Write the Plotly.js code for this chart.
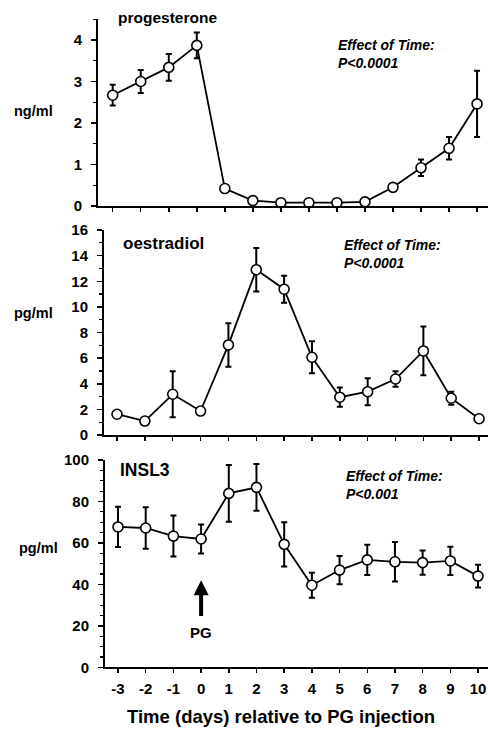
<!DOCTYPE html>
<html>
<head>
<meta charset="utf-8">
<script src="https://cdn.plot.ly/plotly-3.0.1.min.js"></script>
<style>html,body{margin:0;padding:0;background:#fff}#chart{width:488px;height:733px}</style>
</head>
<body>
<div id="chart"></div>
<script>
// ---- data ----
const days = [-3,-2,-1,0,1,2,3,4,5,6,7,8,9,10];
const tickLabels = ['-3','-2','-1','0','1','2','3','4','5','6','7','8','9','10'];

const progesterone    = [2.67,3.00,3.34,3.87,0.42,0.13,0.08,0.08,0.08,0.10,0.45,0.92,1.39,2.46];
const progesteroneErr = [0.25,0.28,0.32,0.31,0.04,0.03,0.02,0.02,0.02,0.02,0.08,0.20,0.27,0.80];

const oestradiol    = [1.62,1.09,3.18,1.87,7.03,12.9,11.38,6.07,2.95,3.38,4.37,6.56,2.87,1.27];
const oestradiolErr = [0.15,0.10,1.80,0.20,1.70,1.70,1.05,1.25,0.75,1.05,0.60,1.90,0.50,0.20];

const insl3    = [67.7,67.2,63.3,61.9,83.9,86.8,59.3,39.6,46.9,51.8,50.9,50.5,51.3,44.0];
const insl3Err = [9.7,10.0,9.9,7.0,13.7,11.3,10.7,6.0,6.8,7.3,9.5,5.8,6.8,5.5];

const panelNames = ['progesterone','oestradiol','INSL3'];
const unitLabels = ['ng/ml','pg/ml','pg/ml'];
const statLabels = ['P<0.0001','P<0.0001','P<0.001'];
const pgDay = 0;
const pgArrow = [24, 42];
const pgLabelY = 17;

// ---- layout helpers ----
const W = 488, H = 733;
const FONT = 'Liberation Sans, Arial, Helvetica, sans-serif';
const px = (x, y) => ({x: x / W, y: 1 - y / H});

function trace(y, err, xa, ya) {
  return {
    x: days, y: y, xaxis: xa, yaxis: ya, type: 'scatter', mode: 'lines+markers',
    line: {color: '#000', width: 1.8},
    marker: {symbol: 'circle', size: 10, color: '#fff', line: {color: '#000', width: 1.6}},
    error_y: {type: 'data', array: err, visible: true, color: '#000', thickness: 2, width: 3},
    cliponaxis: false, showlegend: false, hoverinfo: 'skip'
  };
}

const data = [
  trace(progesterone, progesteroneErr, 'x', 'y'),
  trace(oestradiol, oestradiolErr, 'x2', 'y2'),
  trace(insl3, insl3Err, 'x3', 'y3')
];

const tickFont = {family: FONT, size: 15, color: '#000', weight: 'bold'};

function xaxis(dom, range, anchor, labels) {
  return {
    domain: dom, range: range, anchor: anchor,
    showgrid: false, zeroline: false, showline: true, linecolor: '#000', linewidth: 2,
    ticks: 'outside', ticklen: 4, tickwidth: 1.5, tickcolor: '#000',
    tickmode: 'array', tickvals: days, ticktext: labels ? tickLabels : days.map(() => ''),
    showticklabels: !!labels, tickfont: tickFont, ticklabeloverflow: 'allow',
    ticklabelstandoff: 3, fixedrange: true
  };
}
function yaxis(dom, range, anchor, dtick, minor) {
  return {
    domain: dom, range: range, anchor: anchor,
    showgrid: false, zeroline: false, showline: true, linecolor: '#000', linewidth: 2,
    ticks: 'outside', ticklen: 5, tickwidth: 1.5, tickcolor: '#000',
    tick0: 0, dtick: dtick, tickfont: tickFont, ticklabelstandoff: 6,
    minor: {dtick: minor, tick0: 0, ticks: 'outside', ticklen: 3, tickwidth: 1.2, tickcolor: '#000', showgrid: false},
    fixedrange: true
  };
}

const annotations = [];
function txt(x, y, text, size, opts) {
  const p = px(x, y);
  annotations.push(Object.assign({
    xref: 'paper', yref: 'paper', x: p.x, y: p.y, text: text, showarrow: false,
    xanchor: 'left', yanchor: 'middle',
    font: {family: FONT, size: size, color: '#000', weight: 'bold'}
  }, opts || {}));
}

const titlePos = [[116, 18], [121, 243], [118, 470]];
const titleSize = [15.5, 17, 17.5];
const statPos = [[336, 45, 63], [342, 245, 263], [344, 476, 494]];
const unitPos = [[12, 111], [12, 313], [17, 548]];
const statFont = {family: FONT, size: 14, color: '#000', weight: 'bold', style: 'italic'};
for (let i = 0; i < 3; i++) {
  txt(titlePos[i][0], titlePos[i][1], panelNames[i], titleSize[i]);
  txt(statPos[i][0], statPos[i][1], 'Effect of Time:', 14, {font: statFont});
  txt(statPos[i][0], statPos[i][2], statLabels[i].replace('<', '&lt;'), 14, {font: statFont});
  txt(unitPos[i][0], unitPos[i][1], unitLabels[i], 14.5);
}
// x axis title
txt(281, 716, 'Time (days) relative to PG injection', 18.5, {xanchor: 'center'});

// PG arrow (data coordinates of the INSL3 panel)
annotations.push({
  xref: 'x3', yref: 'y3', axref: 'x3', ayref: 'y3',
  x: pgDay, y: pgArrow[1], ax: pgDay, ay: pgArrow[0], text: '',
  showarrow: true, arrowhead: 2, arrowsize: 0.75, arrowwidth: 4, arrowcolor: '#000', standoff: 0, startstandoff: 0
});
annotations.push({
  xref: 'x3', yref: 'y3', x: pgDay, y: pgLabelY, text: 'PG', showarrow: false,
  xanchor: 'center', yanchor: 'middle', font: {family: FONT, size: 15, color: '#000', weight: 'bold'}
});

const layout = {
  width: W, height: H, margin: {l: 0, r: 0, t: 0, b: 0},
  paper_bgcolor: '#fff', plot_bgcolor: 'rgba(0,0,0,0)', showlegend: false,
  font: {family: FONT, color: '#000'},
  xaxis:  xaxis([98 / W, 1], [-3.525, 10.39], 'y', false),
  xaxis2: xaxis([104 / W, 1], [-3.467, 10.32], 'y2', false),
  xaxis3: xaxis([105 / W, 1], [-3.47, 10.36], 'y3', true),
  yaxis:  yaxis([1 - 206 / H, 1 - 19.25 / H], [0, 4.5], 'x', 1, 0.5),
  yaxis2: yaxis([1 - 435 / H, 1 - 230 / H], [0, 16], 'x2', 2, 1),
  yaxis3: yaxis([1 - 667.3 / H, 1 - 460 / H], [0, 100], 'x3', 20, 5),
  annotations: annotations
};

Plotly.newPlot('chart', data, layout, {displayModeBar: false, staticPlot: true});
</script>
</body>
</html>
